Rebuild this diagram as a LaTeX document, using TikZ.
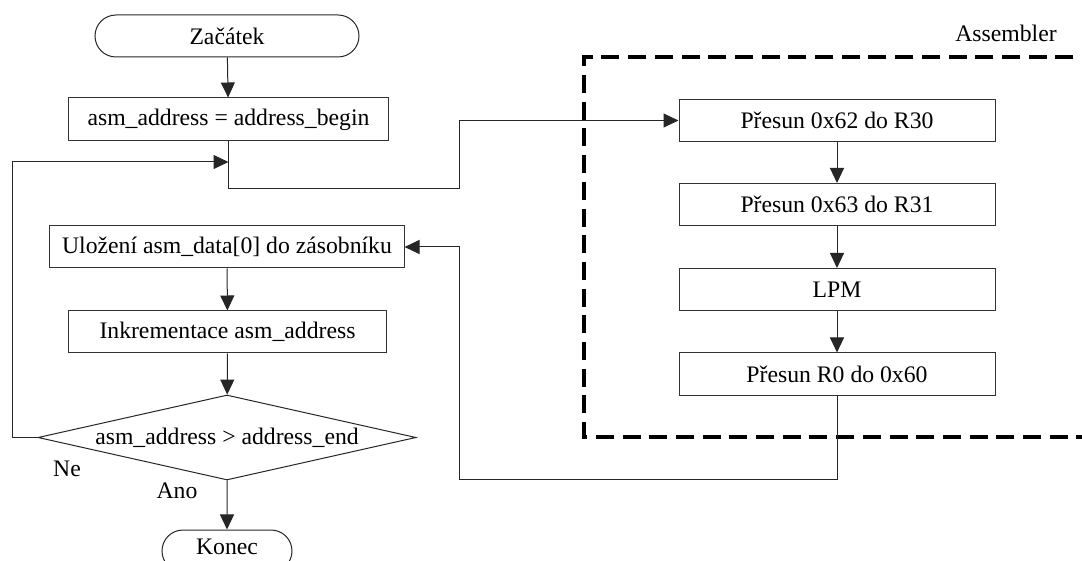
\documentclass[tikz,border=0pt]{standalone}
\usepackage{fontspec}
\setmainfont{Liberation Serif}
\usetikzlibrary{arrows.meta,shapes.geometric,shapes.misc}

\begin{document}
\begin{tikzpicture}[x=1bp,y=-1bp,
  font=\fontsize{23.7bp}{28bp}\selectfont,
  box/.style={draw=black!80,line width=1bp,rectangle,minimum height=42bp,inner sep=0pt},
  terminal/.style={draw=black!85,line width=1bp,rounded rectangle,minimum height=42bp,inner sep=0pt},
  decision/.style={draw=black!85,line width=1bp,diamond,aspect=4.45,minimum width=378bp,minimum height=85bp,inner sep=0pt},
  flow/.style={line width=1bp,draw=black!85,-{Triangle[length=15bp,width=14bp]}},
  group/.style={line width=3.3bp,dash pattern=on 18bp off 8.7bp}]
\useasboundingbox (0,0) rectangle (1082,561);
\clip (0,0) rectangle (1082,561);

% main program flow
\node[terminal,minimum width=264bp] (start) at (227,36) {Začátek};
\node[box,minimum width=319bp,minimum height=43bp] (init) at (228.5,119.5) {asm\_address = address\_begin};
\node[box,minimum width=354bp] (store) at (227,247) {Uložení asm\_data[0] do zásobníku};
\node[box,minimum width=317bp] (inc) at (227.5,332) {Inkrementace asm\_address};
\node[decision] (cond) at (227,437.5) {asm\_address > address\_end};
\node[terminal,minimum width=130bp,text depth=8bp] (stop) at (227,551) {Konec};

\node[anchor=base] (ne) at (67,476) {Ne};
\node[anchor=base] (ano) at (177,498) {Ano};

% assembler routine
\node[box,minimum width=316bp] (r1) at (837,120.5) {Přesun 0x62 do R30};
\node[box,minimum width=316bp] (r2) at (837,204.5) {Přesun 0x63 do R31};
\node[box,minimum width=316bp] (r3) at (837,289.5) {LPM};
\node[box,minimum width=316bp] (r4) at (837,374) {Přesun R0 do 0x60};

\draw[group] (1100,57) -- (584,57) -- (584,437) -- (1100,437);
\node[anchor=base] (asm) at (1006,42) {Assembler};

% connectors
\coordinate (j1) at (459,189);
\coordinate (j2) at (459,479);
\coordinate (lp) at (12,162);

\draw[flow] (start) -- (init);
\draw[flow] (init.south) |- (j1) |- (r1.west);
\draw[flow] (r1) -- (r2);
\draw[flow] (r2) -- (r3);
\draw[flow] (r3) -- (r4);
\draw[flow] (r4.south) |- (j2) |- (store.east);
\draw[flow] (store) -- (inc);
\draw[flow] (inc) -- (cond);
\draw[flow] (cond) -- (stop);
\draw[flow] (cond.west) -| (lp) -- (lp -| init.south);
\end{tikzpicture}
\end{document}
